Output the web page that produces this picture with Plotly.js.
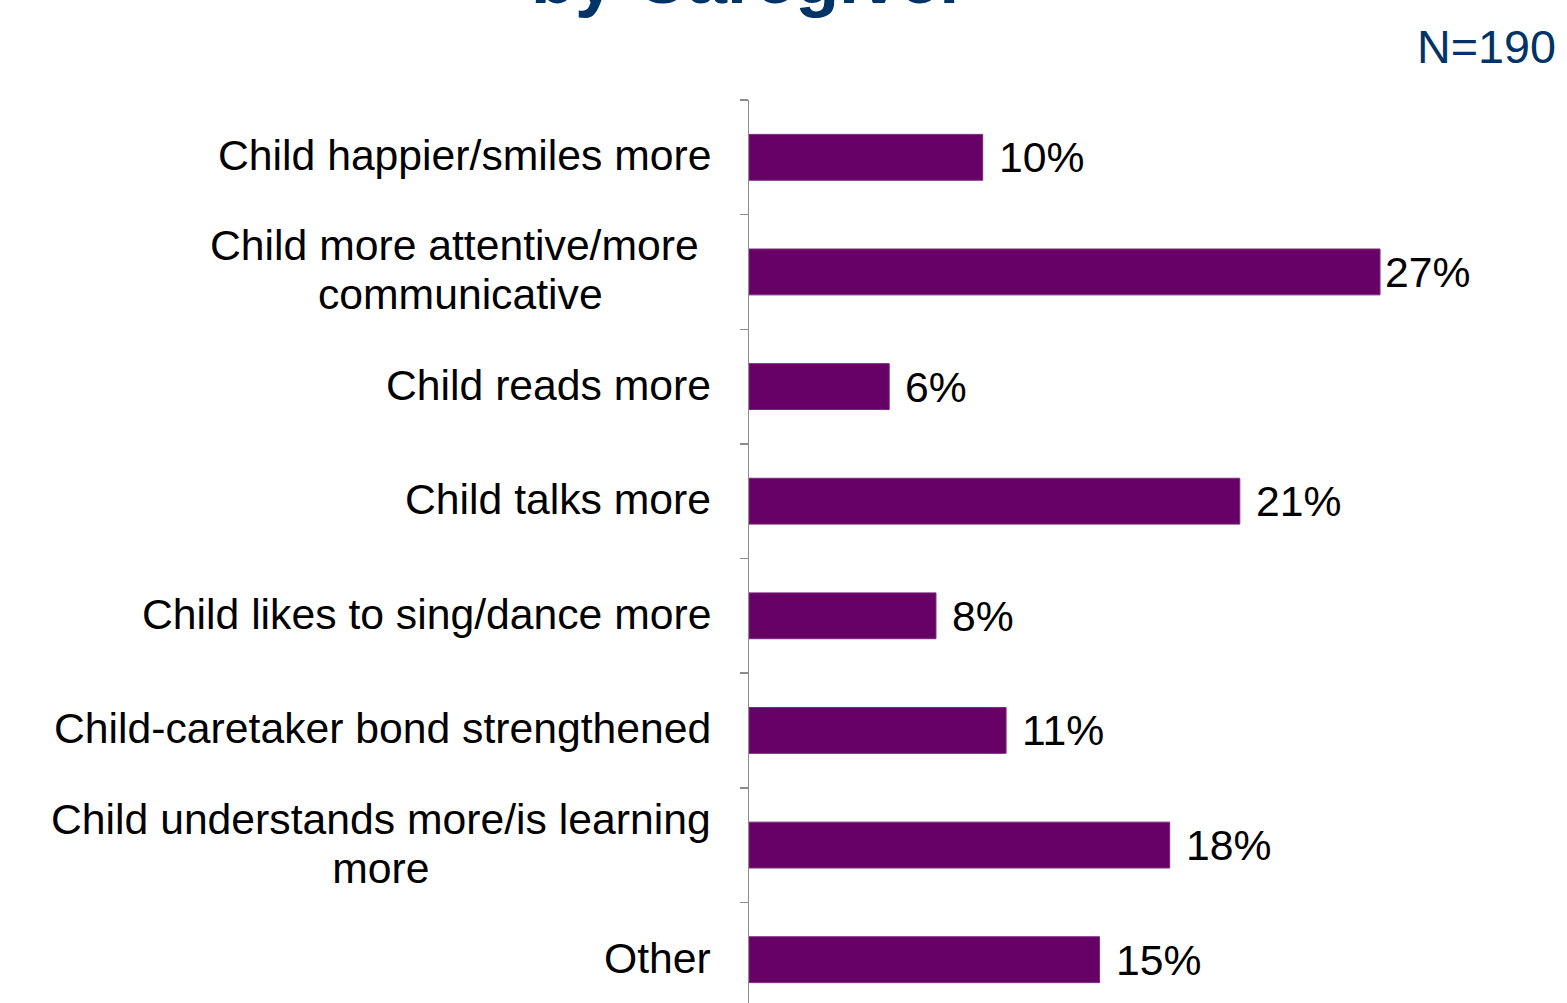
<!DOCTYPE html>
<html>
<head>
<meta charset="utf-8">
<script src="https://cdn.plot.ly/plotly-3.0.1.min.js"></script>
<style>
html, body { margin: 0; padding: 0; overflow: hidden; background: #ffffff; }
#chart { width: 1567px; height: 1020px; }
</style>
</head>
<body>
<div id="chart"></div>
<script>
// ---- data ----
const categories = [
  "Child happier/smiles more",
  "Child more attentive/more\u00a0<br>communicative",
  "Child reads more",
  "Child talks more",
  "Child likes to sing/dance more",
  "Child-caretaker bond strengthened",
  "Child understands more/is learning<br>more",
  "Other"
];
const values = [10, 27, 6, 21, 8, 11, 18, 15];
const valueLabels = ["10%", "27%", "6%", "21%", "8%", "11%", "18%", "15%"];
const titleText = "by Caregiver";
const sampleText = "N=190";

// ---- style ----
const FONT = "Liberation Sans, Arial, sans-serif";
const BAR_COLOR = "#660066";
const NAVY = "#003366";
const AXIS_GRAY = "#8c8c8c";
const LABEL_SIZE = 42.7;

const trace = {
  type: "bar",
  orientation: "h",
  y: categories,
  x: values,
  width: 0.4,
  marker: { color: BAR_COLOR, line: { color: "#7b2a7b", width: 1 } },
  hoverinfo: "skip"
};

const maxVal = Math.max(...values);
const annotations = [];
categories.forEach((c, i) => {
  const multi = c.indexOf("<br>") >= 0;
  annotations.push({
    xref: "paper", yref: "y", x: 0, y: c,
    xanchor: "right", yanchor: "middle", xshift: -36, yshift: 2,
    text: multi ? c.split("<br>").map(s => '<span style="font-size:' + LABEL_SIZE + 'px">' + s + '</span>').join("<br>") : c,
    showarrow: false, align: "center",
    font: { family: FONT, size: multi ? 37.7 : LABEL_SIZE, color: "#000000" }
  });
  annotations.push({
    xref: "x", yref: "y", x: values[i], y: c,
    xanchor: "left", yanchor: "middle", xshift: values[i] === maxVal ? 3 : 14, yshift: 0,
    text: valueLabels[i], showarrow: false,
    font: { family: FONT, size: LABEL_SIZE, color: "#000000" }
  });
});
annotations.push({
  xref: "paper", yref: "paper", x: 0, y: 1, xanchor: "center", yanchor: "bottom",
  xshift: 0, yshift: 80,
  text: "<b>" + titleText + "</b>", showarrow: false,
  font: { family: FONT, size: 72, color: NAVY }
});
annotations.push({
  xref: "paper", yref: "paper", x: 1, y: 1, xanchor: "right", yanchor: "middle",
  xshift: -9, yshift: 53,
  text: sampleText, showarrow: false,
  font: { family: FONT, size: 46.7, color: NAVY }
});

const layout = {
  width: 1567,
  height: 1020,
  margin: { l: 749, r: 0, t: 100, b: 3 },
  paper_bgcolor: "#ffffff",
  plot_bgcolor: "#ffffff",
  showlegend: false,
  xaxis: { visible: false, range: [0, 35], fixedrange: true },
  yaxis: {
    type: "category",
    autorange: "reversed",
    showline: true, linecolor: AXIS_GRAY, linewidth: 1.5,
    ticks: "outside", tickson: "boundaries", ticklen: 8, tickcolor: AXIS_GRAY, tickwidth: 1.5,
    showgrid: false, zeroline: false, showticklabels: false, fixedrange: true
  },
  annotations: annotations
};

Plotly.newPlot("chart", [trace], layout, { displayModeBar: false, staticPlot: true });
</script>
</body>
</html>
